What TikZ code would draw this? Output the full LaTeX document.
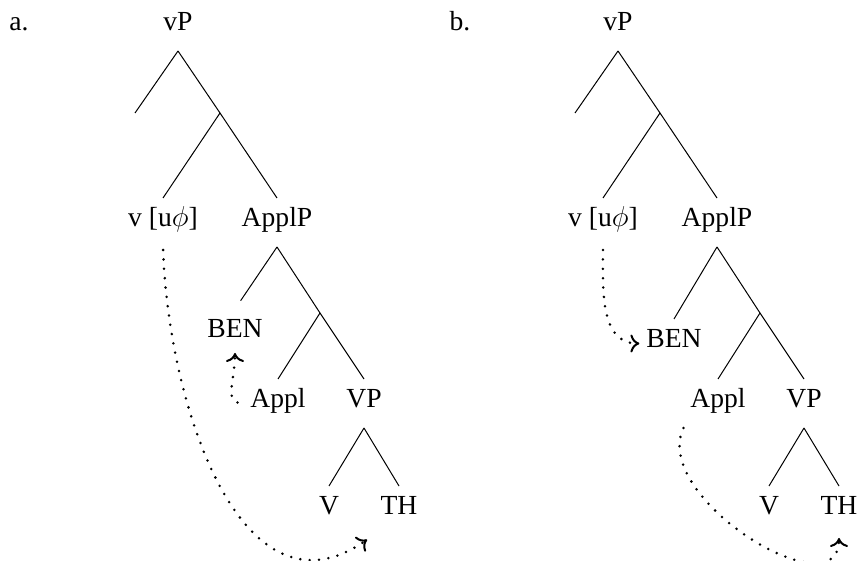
\documentclass[tikz,border=0pt]{standalone}
\usepackage{fontspec}
\setmainfont{Liberation Serif}
\usetikzlibrary{positioning,arrows.meta}

\begin{document}
\begin{tikzpicture}[x=0.5pt, y=-0.5pt,
        lbl/.style={anchor=base, inner sep=3pt, outer xsep=0.5pt, outer ysep=4.5pt, text height=0.7em, text depth=0.25em, font=\fontsize{13.8}{16}\selectfont},
        branch/.style={line width=0.5pt},
        agree/.style={line width=1.4pt, line cap=round, dash pattern=on 0pt off 4.7pt, -{To[length=4.5pt, width=9pt, line width=1pt]}}]
        \useasboundingbox (0,0) rectangle (858,561);

        %% Tree a
        \node[lbl] (la) at (19,31) {a.};
        \node[lbl] (vPa) at (178,31) {vP};
        \coordinate (speca) at (135,113);
        \coordinate (vbara) at (220,113);
        \node[lbl] (vua) at (163,227) {v [u$\phi$]};
        \node[lbl] (ApplPa) at (277,227) {ApplP};
        \coordinate (applbara) at (320,313);
        \node[lbl] (BENa) at (235,338) {BEN};
        \node[lbl] (Appla) at (278,408) {Appl};
        \node[lbl] (VPa) at (364,408) {VP};
        \node[lbl] (Va) at (329,515) {V};
        \node[lbl] (THa) at (399,515) {TH};

        \draw[branch] (vPa.south) -- (speca);
        \draw[branch] (vPa.south) -- (vbara);
        \draw[branch] (vbara) -- (vua.north);
        \draw[branch] (vbara) -- (ApplPa.north);
        \draw[branch, shorten >=5pt] (ApplPa.south) -- (BENa.north);
        \draw[branch] (ApplPa.south) -- (applbara);
        \draw[branch] (applbara) -- (Appla.north);
        \draw[branch] (applbara) -- (VPa.north);
        \draw[branch] (VPa.south) -- (Va.north);
        \draw[branch] (VPa.south) -- (THa.north);

        %% Agree a
        \draw[agree, shorten <=1.5pt, shorten >=4pt] (vua.south) to[out=-88, in=-145, looseness=1.15] (THa.south west);
        \draw[agree, shorten <=3pt, shorten >=-2.5pt] (Appla.west) to[out=170, in=-90] (BENa.south);

        %% Tree b
        \node[lbl] (lb) at (460,31) {b.};
        \node[lbl] (vPb) at (618,31) {vP};
        \coordinate (specb) at (575,113);
        \coordinate (vbarb) at (660,113);
        \node[lbl] (vub) at (603,227) {v [u$\phi$]};
        \node[lbl] (ApplPb) at (717,227) {ApplP};
        \coordinate (applbarb) at (760,313);
        \node[lbl] (BENb) at (674,348) {BEN};
        \node[lbl] (Applb) at (718,408) {Appl};
        \node[lbl] (VPb) at (804,408) {VP};
        \node[lbl] (Vb) at (769,515) {V};
        \node[lbl] (THb) at (839,515) {TH};

        \draw[branch] (vPb.south) -- (specb);
        \draw[branch] (vPb.south) -- (vbarb);
        \draw[branch] (vbarb) -- (vub.north);
        \draw[branch] (vbarb) -- (ApplPb.north);
        \draw[branch] (ApplPb.south) -- (BENb.north);
        \draw[branch] (ApplPb.south) -- (applbarb);
        \draw[branch] (applbarb) -- (Applb.north);
        \draw[branch] (applbarb) -- (VPb.north);
        \draw[branch] (VPb.south) -- (Vb.north);
        \draw[branch] (VPb.south) -- (THb.north);

        %% Agree b
        \draw[agree, shorten <=1.5pt] (vub.south) to[out=-90, in=180] (BENb.west);
        \draw[agree, shorten >=1.5pt] (Applb.south west) to[out=-115, in=-90, looseness=1.05] (THb.south);
\end{tikzpicture}
\end{document}
